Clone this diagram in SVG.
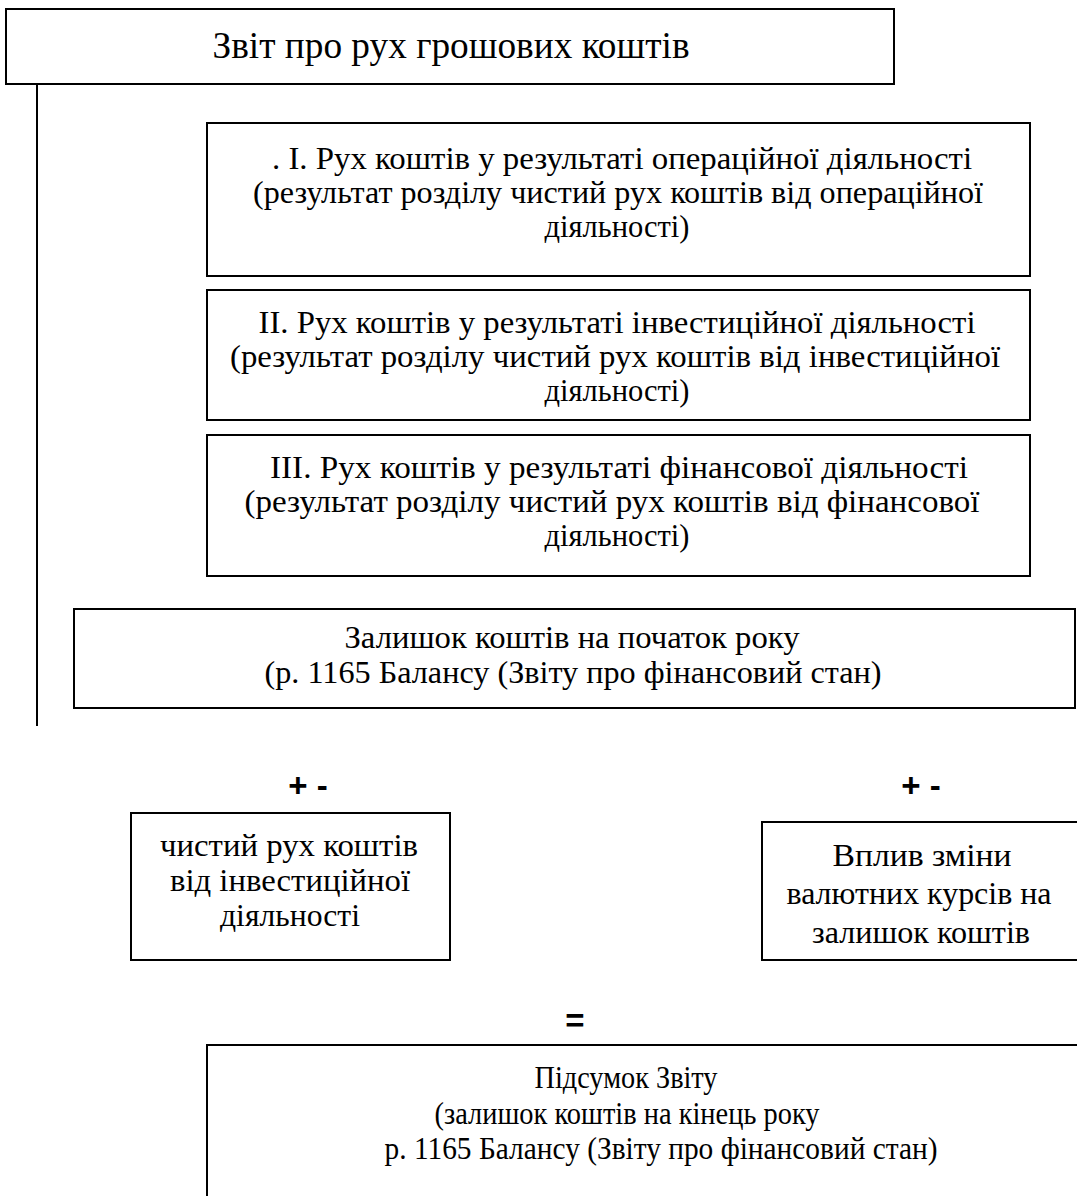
<svg xmlns="http://www.w3.org/2000/svg" width="1077" height="1196" viewBox="0 0 1077 1196">
<style>
.box{fill:#fff;stroke:#000;stroke-width:2}
.t{font-family:"Liberation Serif","Times New Roman",serif;font-size:32px;fill:#000;text-anchor:middle}
.title{font-size:38px}
.op{font-family:"Liberation Sans",Arial,sans-serif;font-weight:bold;font-size:33px;fill:#000;text-anchor:middle}
.ln{stroke:#000;stroke-width:2;fill:none}
</style>
<rect width="1077" height="1196" fill="#fff"/>
<g id="connectors">
<line class="ln" x1="37" y1="84" x2="37" y2="726"/>
</g>
<g id="title">
<rect class="box" x="6" y="9" width="888" height="75"/>
<text class="t title" x="451" y="58" textLength="477" lengthAdjust="spacingAndGlyphs">Звіт про рух грошових коштів</text>
</g>
<g id="op">
<rect class="box" x="207" y="123" width="823" height="153"/>
<text class="t" x="622" y="169" textLength="700" lengthAdjust="spacingAndGlyphs">. І. Рух коштів у результаті операційної діяльності</text>
<text class="t" x="618" y="203" textLength="730" lengthAdjust="spacingAndGlyphs">(результат розділу чистий рух коштів від операційної</text>
<text class="t" x="617" y="237" textLength="145" lengthAdjust="spacingAndGlyphs">діяльності)</text>
</g>
<g id="inv">
<rect class="box" x="207" y="290" width="823" height="130"/>
<text class="t" x="617" y="333" textLength="717" lengthAdjust="spacingAndGlyphs">ІІ. Рух коштів у результаті інвестиційної діяльності</text>
<text class="t" x="615" y="367" textLength="770" lengthAdjust="spacingAndGlyphs">(результат розділу чистий рух коштів від інвестиційної</text>
<text class="t" x="617" y="401" textLength="145" lengthAdjust="spacingAndGlyphs">діяльності)</text>
</g>
<g id="fin">
<rect class="box" x="207" y="435" width="823" height="141"/>
<text class="t" x="619" y="478" textLength="698" lengthAdjust="spacingAndGlyphs">ІІІ. Рух коштів у результаті фінансової діяльності</text>
<text class="t" x="612" y="512" textLength="735" lengthAdjust="spacingAndGlyphs">(результат розділу чистий рух коштів від фінансової</text>
<text class="t" x="617" y="546" textLength="145" lengthAdjust="spacingAndGlyphs">діяльності)</text>
</g>
<g id="start">
<rect class="box" x="74" y="609" width="1001" height="99"/>
<text class="t" x="572" y="648" textLength="455" lengthAdjust="spacingAndGlyphs">Залишок коштів на початок року</text>
<text class="t" x="573" y="683" textLength="617" lengthAdjust="spacingAndGlyphs">(р. 1165 Балансу (Звіту про фінансовий стан)</text>
</g>
<g id="ops">
<text class="op" x="308" y="797">+ -</text>
<text class="op" x="921" y="797">+ -</text>
<text class="op" x="575" y="1032">=</text>
</g>
<g id="net">
<rect class="box" x="131" y="813" width="319" height="147"/>
<text class="t" x="289" y="856" textLength="258" lengthAdjust="spacingAndGlyphs">чистий рух коштів</text>
<text class="t" x="290" y="891" textLength="240" lengthAdjust="spacingAndGlyphs">від інвестиційної</text>
<text class="t" x="290" y="926" textLength="140" lengthAdjust="spacingAndGlyphs">діяльності</text>
</g>
<g id="fx">
<rect class="box" x="762" y="822" width="320" height="138"/>
<text class="t" x="922" y="866" textLength="179" lengthAdjust="spacingAndGlyphs">Вплив зміни</text>
<text class="t" x="919" y="904" textLength="265" lengthAdjust="spacingAndGlyphs">валютних курсів на</text>
<text class="t" x="921" y="943" textLength="218" lengthAdjust="spacingAndGlyphs">залишок коштів</text>
</g>
<g id="total">
<rect class="box" x="207" y="1045" width="880" height="160"/>
<text class="t" x="626" y="1088" textLength="183" lengthAdjust="spacingAndGlyphs">Підсумок Звіту</text>
<text class="t" x="627" y="1124" textLength="385" lengthAdjust="spacingAndGlyphs">(залишок коштів на кінець року</text>
<text class="t" x="661" y="1159" textLength="553" lengthAdjust="spacingAndGlyphs">р. 1165 Балансу (Звіту про фінансовий стан)</text>
</g>
</svg>
